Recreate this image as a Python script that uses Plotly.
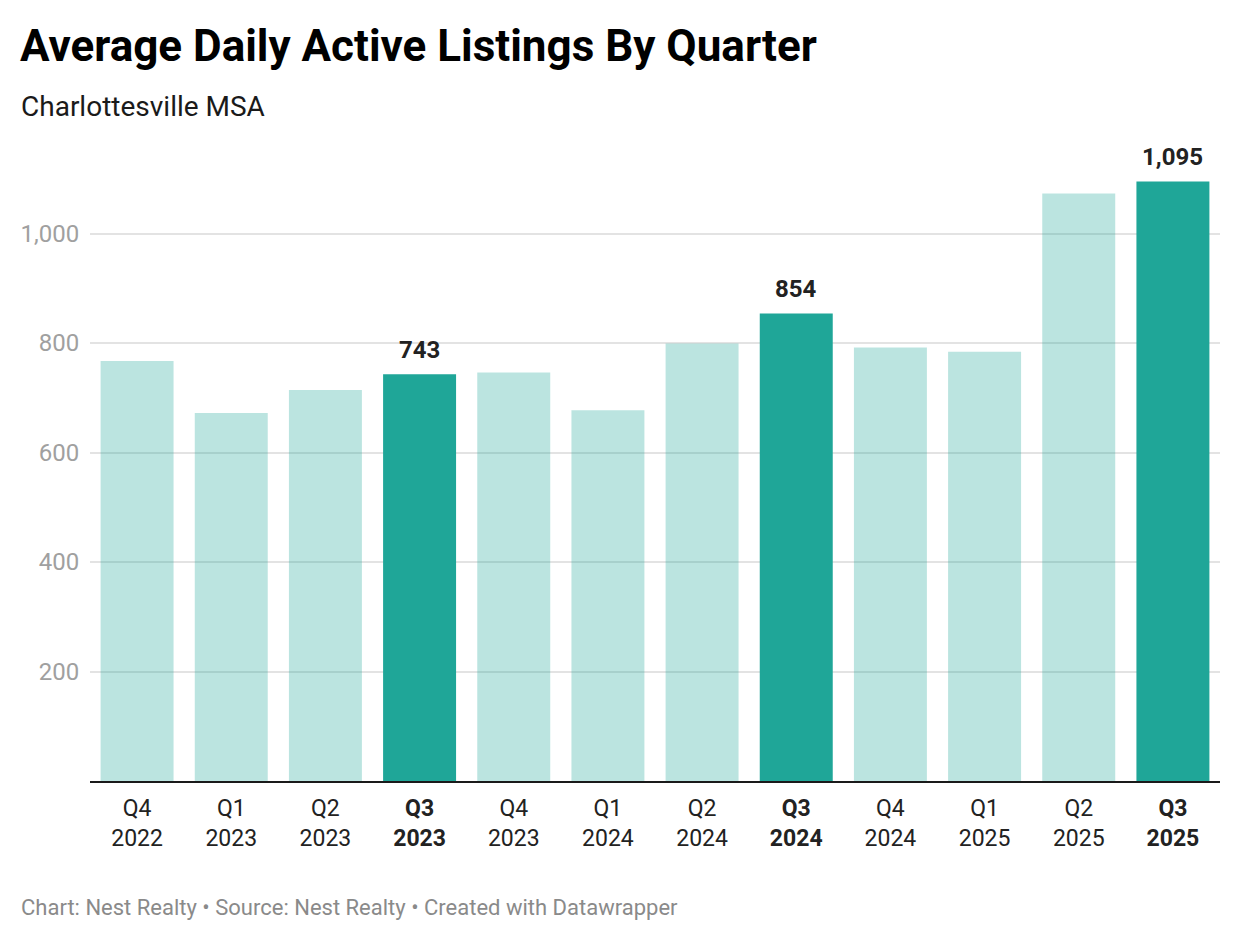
import plotly.graph_objects as go

quarters = ["Q4", "Q1", "Q2", "Q3", "Q4", "Q1", "Q2", "Q3", "Q4", "Q1", "Q2", "Q3"]
years = ["2022", "2023", "2023", "2023", "2023", "2024", "2024", "2024", "2024", "2025", "2025", "2025"]
listings = [767, 672, 714, 743, 746, 677, 799, 854, 792, 784, 1073, 1095]
highlight = [False, False, False, True, False, False, False, True, False, False, False, True]

y_ticks = [200, 400, 600, 800, 1000]

TEAL = "#1fa698"
FONT = "Roboto"
OFF = 8  # page offset of the rendered figure

categories = [f"{q} {y}" for q, y in zip(quarters, years)]
ticktext = [
    (f"<b>{q}<br>{y}</b>" if h else f"{q}<br>{y}")
    for q, y, h in zip(quarters, years, highlight)
]

fig = go.Figure()
fig.add_trace(go.Bar(
    x=categories,
    y=listings,
    marker=dict(color=TEAL, opacity=[1.0 if h else 0.3 for h in highlight], line=dict(width=0)),
    hoverinfo="x+y",
    showlegend=False,
))

annotations = []
for c, v, h in zip(categories, listings, highlight):
    if h:
        annotations.append(dict(
            x=c, y=v, xref="x", yref="y", text=f"<b>{v:,}</b>",
            showarrow=False, yanchor="bottom", yshift=8,
            font=dict(family=FONT, size=24, color="#222222"),
        ))

plot_left, plot_right, plot_top, plot_bottom = 90 - OFF, 1220 - OFF, 160 - OFF, 781 - OFF
ph = plot_bottom - plot_top
pw = plot_right - plot_left

def px_x(x):
    return (x - OFF - plot_left) / pw

def px_y(y):
    return (plot_bottom - (y - OFF)) / ph

annotations.append(dict(
    x=px_x(19), y=px_y(106), xref="paper", yref="paper", xanchor="left", yanchor="middle",
    text="Charlottesville MSA", showarrow=False,
    font=dict(family=FONT, size=28, color="#1a1a1a"),
))
annotations.append(dict(
    x=px_x(19), y=px_y(907), xref="paper", yref="paper", xanchor="left", yanchor="middle",
    text="Chart: Nest Realty • Source: Nest Realty • Created with Datawrapper", showarrow=False,
    font=dict(family=FONT, size=22, color="#8a8a8a"),
))

fig.update_layout(
    width=1240, height=940,
    margin=dict(l=plot_left, r=1240 - plot_right, t=plot_top, b=940 - plot_bottom),
    paper_bgcolor="white", plot_bgcolor="white",
    bargap=0.225,
    title=dict(
        text="<b>Average Daily Active Listings By Quarter</b>",
        x=(20 - OFF) / 1240, xref="container", xanchor="left",
        y=1 - (46 - OFF) / 940, yref="container", yanchor="middle",
        font=dict(family=FONT, size=44, color="#000000"),
    ),
    font=dict(family=FONT),
    annotations=annotations,
    xaxis=dict(
        tickmode="array", tickvals=categories, ticktext=ticktext,
        tickfont=dict(family=FONT, size=23, color="#222222"),
        showline=True, linecolor="#1a1a1a", linewidth=2,
        ticks="outside", ticklen=5, tickcolor="rgba(0,0,0,0)",
        showgrid=False, fixedrange=True,
    ),
    yaxis=dict(
        range=[0, (plot_bottom - plot_top) / 0.5475],
        tickmode="array", tickvals=y_ticks, ticktext=[f"{v:,}" for v in y_ticks],
        tickfont=dict(family=FONT, size=24, color="#a0a0a0"),
        showgrid=True, gridcolor="#e3e3e3", gridwidth=1.5,
        zeroline=False, showline=False,
        ticks="outside", ticklen=5, tickcolor="rgba(0,0,0,0)",
        fixedrange=True,
    ),
)

fig.write_html("out.html")
